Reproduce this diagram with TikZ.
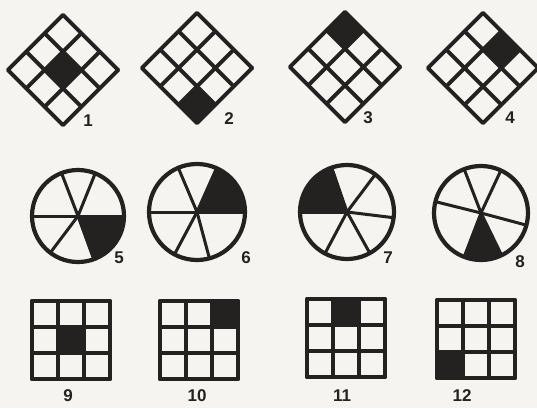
\documentclass[tikz,border=0pt]{standalone}
\usepackage{fontspec}
\setsansfont{Liberation Sans}
\usepackage{tikz}
\usetikzlibrary{calc}

\definecolor{ink}{RGB}{36,34,32}
\definecolor{paper}{RGB}{246,244,240}

\tikzset{
  gridline/.style={ink, line width=3.8pt, line cap=round},
  darkcell/.style={fill=ink},
  rim/.style={ink, line width=4.2pt},
  spoke/.style={ink, line width=3pt},
  numlabel/.style={font=\sffamily\bfseries\fontsize{17}{17}\selectfont, text=ink, inner sep=0pt}
}

\begin{document}
\begin{tikzpicture}[x=1pt,y=1pt]
  \fill[paper] (0,0) rectangle (537,408);
  \useasboundingbox (0,0) rectangle (537,408);

  % row 1: turned grids
  \foreach \n/\px/\py/\c/\r/\lx/\ly in {1/63/338/1/1/88/287, 2/197/340/0/2/229/289,
                                         3/345/341/2/0/368/290, 4/483/340/2/1/510/290}{
    \coordinate (D\n) at (\px,\py);
    \begin{scope}[shift={(D\n)}, rotate=45]
      \fill[darkcell] (-39+26*\c,13-26*\r) rectangle ++(26,26);
      \foreach \k in {0,1,2,3}{
        \draw[gridline] (-39+26*\k,-39) -- (-39+26*\k,39);
        \draw[gridline] (-39,-39+26*\k) -- (39,-39+26*\k);
      }
    \end{scope}
    \node[numlabel] (L\n) at (\lx,\ly) {\n};
  }

  % row 2: wheels
  \foreach \n/\px/\py/\rad/\sp/\da/\db/\lx/\ly in {5/78/192/46/{0,68,111,180,233,290}/290/360/119/150,
                                                  6/197/196/48/{0,66,113,180,242,285}/0/66/246/150,
                                                  7/347/196/47/{53,109,180,242,299,353}/109/180/388/150,
                                                  8/481/195/47/{65,111,166,249,296,345}/249/296/520/146}{
    \coordinate (C\n) at (\px,\py);
    \fill[darkcell] (C\n) -- ($(C\n)+(\da:\rad)$) arc[start angle=\da, end angle=\db, radius=\rad] -- cycle;
    \foreach \a in \sp{
      \draw[spoke] (C\n) -- ($(C\n)+(\a:\rad)$);
    }
    \draw[rim] (C\n) circle[radius=\rad];
    \node[numlabel] (L\n) at (\lx,\ly) {\n};
  }

  % row 3: upright grids
  \foreach \n/\px/\py/\c/\r/\lx/\ly in {9/71/68/1/1/68/12, 10/199/68/2/0/197/12,
                                         11/346/70/1/0/342/12, 12/476/69/0/2/462/12}{
    \coordinate (S\n) at (\px,\py);
    \begin{scope}[shift={(S\n)}]
      \fill[darkcell] (-39+26*\c,13-26*\r) rectangle ++(26,26);
      \foreach \k in {0,1,2,3}{
        \draw[gridline] (-39+26*\k,-39) -- (-39+26*\k,39);
        \draw[gridline] (-39,-39+26*\k) -- (39,-39+26*\k);
      }
    \end{scope}
    \node[numlabel] (L\n) at (\lx,\ly) {\n};
  }
\end{tikzpicture}
\end{document}
